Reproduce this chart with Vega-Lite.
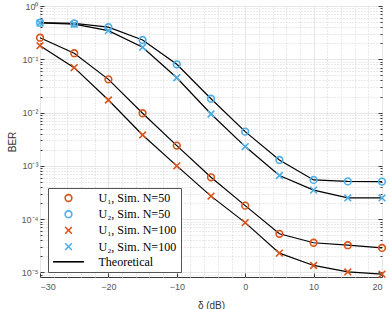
{
  "$schema": "https://vega.github.io/schema/vega-lite/v6.json",
  "width": 342,
  "height": 271,
  "autosize": "none",
  "padding": {"left": 40, "top": 6, "right": 7, "bottom": 32},
  "background": "white",
  "config": {
    "view": {"stroke": "#3a3a3a", "strokeWidth": 1},
    "font": "Liberation Sans"
  },
  "data": {
    "values": [
      {"x": -30, "y": 0.254, "s": "U₁, Sim. N=50"},
      {"x": -25, "y": 0.13, "s": "U₁, Sim. N=50"},
      {"x": -20, "y": 0.042, "s": "U₁, Sim. N=50"},
      {"x": -15, "y": 0.0097, "s": "U₁, Sim. N=50"},
      {"x": -10, "y": 0.0024, "s": "U₁, Sim. N=50"},
      {"x": -5, "y": 0.00061, "s": "U₁, Sim. N=50"},
      {"x": 0, "y": 0.000179, "s": "U₁, Sim. N=50"},
      {"x": 5, "y": 0.000053, "s": "U₁, Sim. N=50"},
      {"x": 10, "y": 0.000036, "s": "U₁, Sim. N=50"},
      {"x": 15, "y": 0.0000324, "s": "U₁, Sim. N=50"},
      {"x": 20, "y": 0.0000288, "s": "U₁, Sim. N=50"},
      {"x": -30, "y": 0.486, "s": "U₂, Sim. N=50"},
      {"x": -25, "y": 0.47, "s": "U₂, Sim. N=50"},
      {"x": -20, "y": 0.4, "s": "U₂, Sim. N=50"},
      {"x": -15, "y": 0.23, "s": "U₂, Sim. N=50"},
      {"x": -10, "y": 0.0805, "s": "U₂, Sim. N=50"},
      {"x": -5, "y": 0.0182, "s": "U₂, Sim. N=50"},
      {"x": 0, "y": 0.00438, "s": "U₂, Sim. N=50"},
      {"x": 5, "y": 0.00129, "s": "U₂, Sim. N=50"},
      {"x": 10, "y": 0.000544, "s": "U₂, Sim. N=50"},
      {"x": 15, "y": 0.00051, "s": "U₂, Sim. N=50"},
      {"x": 20, "y": 0.000506, "s": "U₂, Sim. N=50"},
      {"x": -30, "y": 0.18, "s": "U₁, Sim. N=100"},
      {"x": -25, "y": 0.0697, "s": "U₁, Sim. N=100"},
      {"x": -20, "y": 0.0172, "s": "U₁, Sim. N=100"},
      {"x": -15, "y": 0.0038, "s": "U₁, Sim. N=100"},
      {"x": -10, "y": 0.001, "s": "U₁, Sim. N=100"},
      {"x": -5, "y": 0.00027, "s": "U₁, Sim. N=100"},
      {"x": 0, "y": 0.000086, "s": "U₁, Sim. N=100"},
      {"x": 5, "y": 0.000023, "s": "U₁, Sim. N=100"},
      {"x": 10, "y": 0.0000135, "s": "U₁, Sim. N=100"},
      {"x": 15, "y": 0.0000102, "s": "U₁, Sim. N=100"},
      {"x": 20, "y": 0.0000093, "s": "U₁, Sim. N=100"},
      {"x": -30, "y": 0.48, "s": "U₂, Sim. N=100"},
      {"x": -25, "y": 0.455, "s": "U₂, Sim. N=100"},
      {"x": -20, "y": 0.344, "s": "U₂, Sim. N=100"},
      {"x": -15, "y": 0.168, "s": "U₂, Sim. N=100"},
      {"x": -10, "y": 0.045, "s": "U₂, Sim. N=100"},
      {"x": -5, "y": 0.0094, "s": "U₂, Sim. N=100"},
      {"x": 0, "y": 0.0023, "s": "U₂, Sim. N=100"},
      {"x": 5, "y": 0.00066, "s": "U₂, Sim. N=100"},
      {"x": 10, "y": 0.00035, "s": "U₂, Sim. N=100"},
      {"x": 15, "y": 0.00025, "s": "U₂, Sim. N=100"},
      {"x": 20, "y": 0.00025, "s": "U₂, Sim. N=100"}
    ]
  },
  "encoding": {
    "x": {
      "field": "x",
      "type": "quantitative",
      "scale": {"domain": [-30, 20], "nice": false, "zero": false},
      "axis": {
        "title": "δ (dB)",
        "titleFont": "Liberation Sans",
        "titleFontSize": 10,
        "titleFontWeight": "normal",
        "titleColor": "#333",
        "titlePadding": 9,
        "values": [-30, -28, -26, -24, -22, -20, -18, -16, -14, -12, -10, -8, -6, -4, -2, 0, 2, 4, 6, 8, 10, 12, 14, 16, 18, 20],
        "labelExpr": "datum.value % 10 === 0 ? datum.label : ''",
        "labelFontSize": 9,
        "labelColor": "#555",
        "labelPadding": 9,
        "domain": false,
        "grid": true,
        "gridColor": {"condition": {"test": "datum.value % 10 !== 0", "value": "#d4d4d4"}, "value": "#e6e6e6"},
        "gridDash": {"condition": {"test": "datum.value % 10 !== 0", "value": [1, 2]}, "value": []},
        "tickColor": "#3a3a3a",
        "tickSize": {"condition": {"test": "datum.value % 10 !== 0", "value": 0}, "value": -4}
      }
    }
  },
  "layer": [
    {
      "mark": {"type": "line", "color": "black", "strokeWidth": 1.2},
      "encoding": {
        "detail": {"field": "s"},
        "y": {
          "field": "y",
          "type": "quantitative",
          "scale": {"type": "log", "domain": [0.0000082, 1], "nice": false},
          "axis": {
            "title": "BER",
            "titleFont": "Liberation Sans",
            "titleFontSize": 10,
            "titleFontWeight": "normal",
            "titleColor": "#333",
            "titlePadding": 4,
            "values": [0.000009, 0.00001, 0.00002, 0.00003, 0.00004, 0.00005, 0.00006, 0.00007, 0.00008, 0.00009, 0.0001, 0.0002, 0.0003, 0.0004, 0.0005, 0.0006, 0.0007, 0.0008, 0.0009, 0.001, 0.002, 0.003, 0.004, 0.005, 0.006, 0.007, 0.008, 0.009, 0.01, 0.02, 0.03, 0.04, 0.05, 0.06, 0.07, 0.08, 0.09, 0.1, 0.2, 0.3, 0.4, 0.5, 0.6, 0.7, 0.8, 0.9, 1],
            "labelExpr": "abs(log(datum.value)/LN10 - round(log(datum.value)/LN10)) < 0.001 ? '10' + ['⁰','⁻¹','⁻²','⁻³','⁻⁴','⁻⁵','⁻⁶'][-round(log(datum.value)/LN10)] : ''",
            "labelFontSize": 9,
            "labelColor": "#555",
            "labelPadding": 6,
            "domain": false,
            "grid": true,
            "gridColor": {"condition": {"test": "abs(log(datum.value)/LN10 - round(log(datum.value)/LN10)) > 0.001", "value": "#d4d4d4"}, "value": "#e6e6e6"},
            "gridDash": {"condition": {"test": "abs(log(datum.value)/LN10 - round(log(datum.value)/LN10)) > 0.001", "value": [1, 2]}, "value": []},
            "tickColor": "#3a3a3a",
            "tickSize": {"condition": {"test": "abs(log(datum.value)/LN10 - round(log(datum.value)/LN10)) > 0.001", "value": -2}, "value": -4}
          }
        }
      }
    },
    {
      "mark": {"type": "point", "filled": false, "strokeWidth": 1.6, "size": 45, "opacity": 1},
      "encoding": {
        "y": {"field": "y", "type": "quantitative", "axis": null},
        "color": {
          "field": "s",
          "type": "nominal",
          "scale": {
            "domain": ["U₁, Sim. N=50", "U₂, Sim. N=50", "U₁, Sim. N=100", "U₂, Sim. N=100", "Theoretical"],
            "range": ["#D95319", "#4DAEE6", "#D95319", "#4DAEE6", "black"]
          },
          "legend": {
            "title": null,
            "orient": "none",
            "legendX": 8,
            "legendY": 182,
            "fillColor": "white",
            "strokeColor": "#555",
            "padding": 4,
            "labelFont": "Liberation Serif",
            "labelFontSize": 12,
            "labelColor": "black",
            "symbolSize": 45,
            "symbolStrokeWidth": 1.6,
            "symbolOffset": 10.5,
            "labelOffset": 24,
            "rowPadding": 2.2
          }
        },
        "shape": {
          "field": "s",
          "type": "nominal",
          "scale": {
            "domain": ["U₁, Sim. N=50", "U₂, Sim. N=50", "U₁, Sim. N=100", "U₂, Sim. N=100", "Theoretical"],
            "range": ["circle", "circle", "M-1,-1L1,1M1,-1L-1,1", "M-1,-1L1,1M1,-1L-1,1", "M-4.6,0L4.6,0"]
          }
        }
      }
    },
    {
      "mark": {"type": "point", "opacity": 0},
      "encoding": {
        "y": {
          "field": "y",
          "type": "quantitative",
          "axis": {
            "orient": "right",
            "title": null,
            "labels": false,
            "domain": false,
            "grid": false,
            "values": [0.000009, 0.00001, 0.00002, 0.00003, 0.00004, 0.00005, 0.00006, 0.00007, 0.00008, 0.00009, 0.0001, 0.0002, 0.0003, 0.0004, 0.0005, 0.0006, 0.0007, 0.0008, 0.0009, 0.001, 0.002, 0.003, 0.004, 0.005, 0.006, 0.007, 0.008, 0.009, 0.01, 0.02, 0.03, 0.04, 0.05, 0.06, 0.07, 0.08, 0.09, 0.1, 0.2, 0.3, 0.4, 0.5, 0.6, 0.7, 0.8, 0.9, 1],
            "tickColor": "#3a3a3a",
            "tickSize": {"condition": {"test": "abs(log(datum.value)/LN10 - round(log(datum.value)/LN10)) > 0.001", "value": -2}, "value": -4}
          }
        }
      }
    }
  ],
  "resolve": {"axis": {"y": "independent"}}
}
